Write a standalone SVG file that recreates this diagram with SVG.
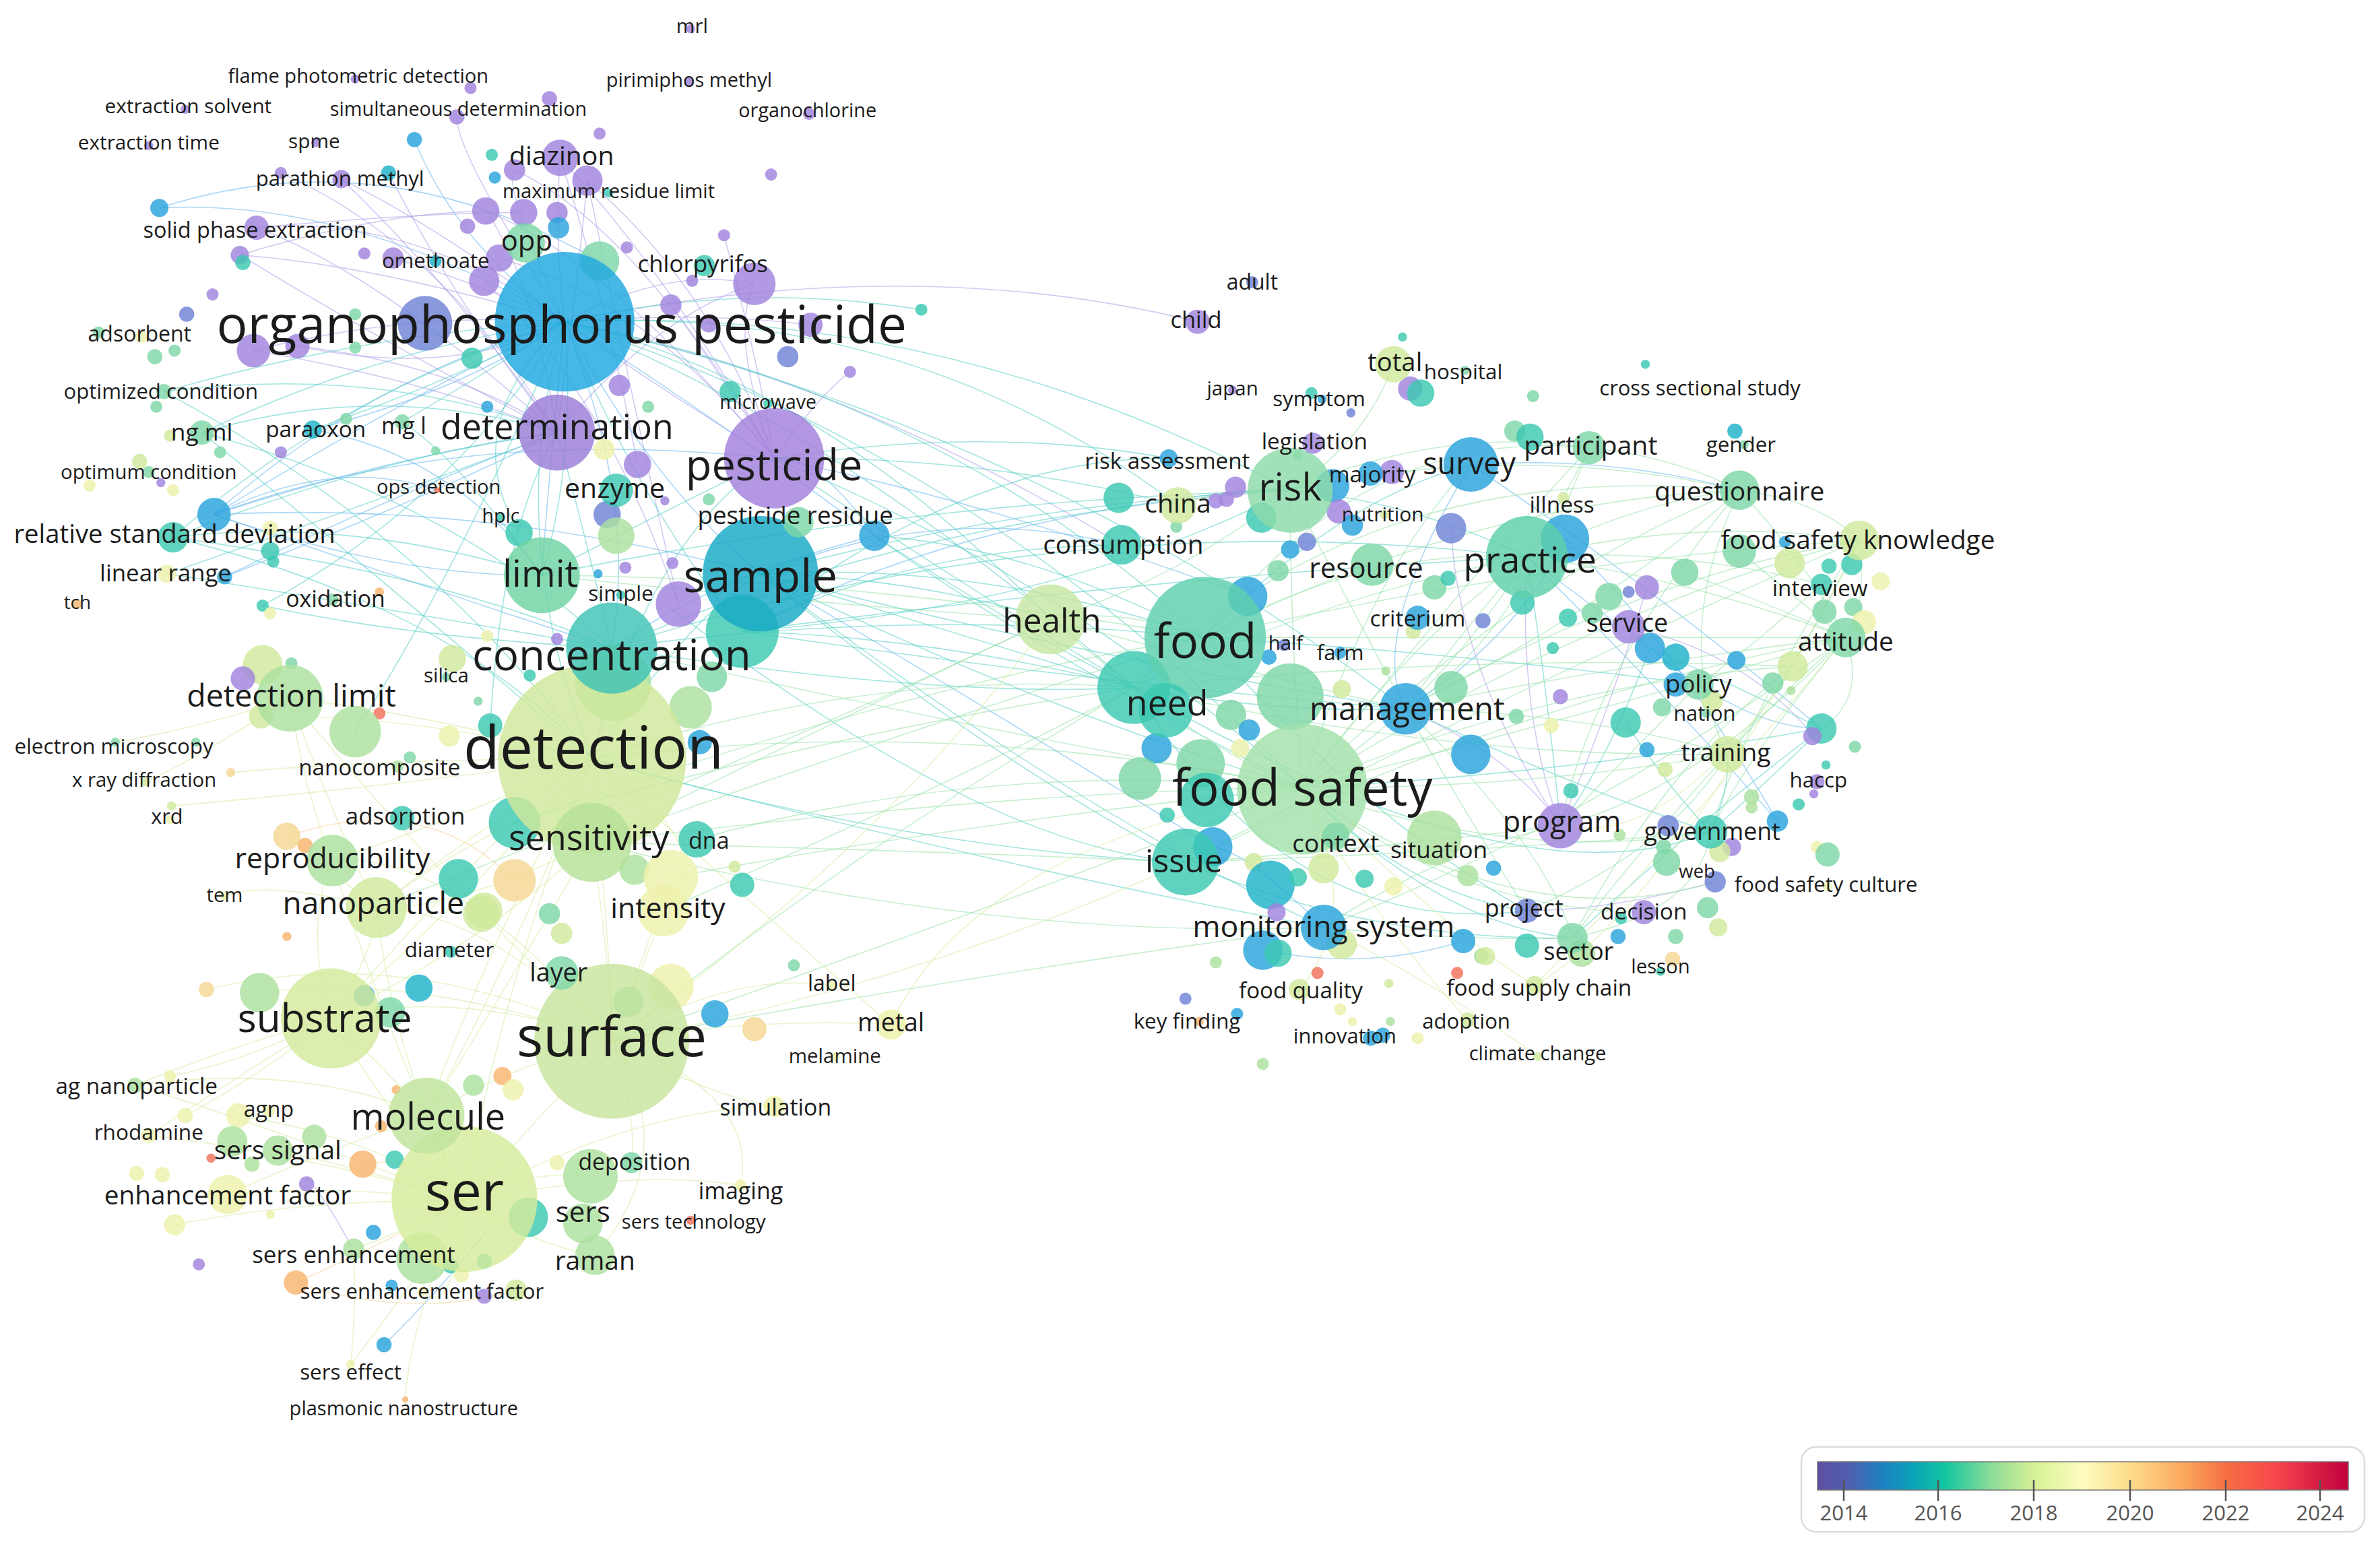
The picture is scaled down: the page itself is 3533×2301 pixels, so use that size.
<svg xmlns="http://www.w3.org/2000/svg" width="3533" height="2301" viewBox="0 0 3533 2301">
<defs>
<style>
text{font-family:"Open Sans","Noto Sans","DejaVu Sans",sans-serif;text-anchor:middle;dominant-baseline:middle;fill:#1b1b1b}
circle{fill-opacity:.82}
.p{fill:#a084dd}.bp{fill:#6f83d6}.b{fill:#29a3dc}.tb{fill:#1fb2c9}.t{fill:#3cc8b2}.g{fill:#7fd7a7}.lg{fill:#ace19f}.yg{fill:#d0e99c}.y{fill:#eef1ab}.lo{fill:#f5d792}.o{fill:#f6b46f}.r{fill:#f2705a}
#connectors{fill:none;stroke-width:.7;stroke-opacity:.55}
.ep{stroke:#ad9fe8}.eb{stroke:#68b6ee}.et{stroke:#55d0c4}.eg{stroke:#98e1aa}.ey{stroke:#d6eca2}.eo{stroke:#f5d39a}
.lgd{font-size:31px;fill:#555}
</style>
<linearGradient id="yr" x1="0" y1="0" x2="1" y2="0">
<stop offset="0" stop-color="#5e4fa2"/>
<stop offset="0.06" stop-color="#4f5fae"/>
<stop offset="0.12" stop-color="#1f80c2"/>
<stop offset="0.18" stop-color="#0aa2b8"/>
<stop offset="0.24" stop-color="#12c6a0"/>
<stop offset="0.33" stop-color="#8fdc98"/>
<stop offset="0.41" stop-color="#d8f296"/>
<stop offset="0.5" stop-color="#fdfdbf"/>
<stop offset="0.59" stop-color="#fedc8b"/>
<stop offset="0.69" stop-color="#fca85e"/>
<stop offset="0.77" stop-color="#f66e42"/>
<stop offset="0.86" stop-color="#f8474c"/>
<stop offset="1" stop-color="#c1003e"/>
</linearGradient>
</defs>
<rect width="3533" height="2301" fill="#ffffff"/>
<g transform="scale(2.2532)">
<g id="connectors">
<g class="ep">
<path d="M372 212Q270 140 169 150"/><path d="M372 212Q290 150 225 118"/><path d="M372 212Q310 185 259 170"/><path d="M372 212Q250 175 158 168"/><path d="M372 212Q270 205 167 231"/><path d="M372 212Q365 160 369 104"/><path d="M372 212Q440 175 497 187"/><path d="M372 212Q460 205 534 214"/><path d="M367 285Q250 180 169 150"/><path d="M367 285Q260 230 158 168"/><path d="M367 285Q300 240 196 228"/><path d="M367 285Q350 180 320 139"/><path d="M367 285Q380 190 387 119"/><path d="M510 302Q470 190 387 119"/><path d="M510 302Q440 180 369 104"/><path d="M510 302Q480 220 497 187"/><path d="M510 302Q500 240 477 155"/><path d="M510 302Q540 260 560 245"/><path d="M510 302Q440 260 372 212"/><path d="M372 212Q600 165 789 212"/><path d="M169 150Q280 140 345 140"/><path d="M225 118Q300 190 367 285"/><path d="M1028 544Q1000 470 1006 367"/><path d="M1028 544Q960 440 956 348"/><path d="M1028 544Q1000 500 926 467"/><path d="M1073 413Q1150 430 1195 485"/><path d="M202 776Q215 790 232 822"/><path d="M1130 581Q1060 600 1006 600"/><path d="M372 212Q560 250 739 359"/>
<path d="M510 302Q420 150 339 112"/><path d="M510 302Q400 170 320 139"/><path d="M510 302Q430 200 329 170"/><path d="M367 285Q300 200 256 114"/><path d="M367 285Q290 160 185 114"/><path d="M372 212Q330 120 339 112"/><path d="M372 212Q300 100 301 77"/><path d="M510 302Q470 240 442 201"/><path d="M447 398Q420 280 387 119"/><path d="M447 398Q400 260 319 185"/><path d="M367 285Q430 210 497 187"/><path d="M158 168Q250 140 320 139"/><path d="M167 231Q280 250 367 285"/><path d="M196 228Q300 250 372 212"/><path d="M420 306Q400 200 369 104"/><path d="M1085 387Q1060 470 1028 544"/>
</g>
<g class="eb">
<path d="M105 137Q250 90 395 172"/><path d="M372 212Q240 250 141 339"/><path d="M372 212Q300 260 206 283"/><path d="M367 285Q260 300 141 339"/><path d="M367 285Q250 330 148 380"/><path d="M501 378Q320 330 141 339"/><path d="M141 339Q220 300 288 323"/><path d="M501 378Q430 320 372 212"/><path d="M372 212Q360 330 357 379"/><path d="M372 212Q420 330 403 427"/><path d="M576 353Q540 300 510 302"/><path d="M501 378Q620 330 739 359"/><path d="M253 886Q290 850 320 812"/><path d="M969 306Q1060 300 1146 323"/><path d="M969 306Q1080 380 1200 480"/><path d="M1006 367Q1050 400 1087 427"/><path d="M926 467Q1000 420 1031 355"/><path d="M872 611Q820 560 799 558"/><path d="M832 626Q900 640 964 620"/><path d="M1006 367Q1100 460 1171 541"/><path d="M489 416Q650 330 878 320"/>
<path d="M105 137Q230 130 372 212"/><path d="M273 92Q300 160 372 212"/><path d="M141 339Q270 260 372 212"/><path d="M141 339Q300 280 510 302"/><path d="M141 339Q320 400 403 427"/><path d="M141 339Q260 380 357 379"/><path d="M148 380Q300 320 367 285"/><path d="M576 353Q450 260 372 212"/><path d="M576 353Q470 380 403 427"/><path d="M206 283Q300 300 357 379"/><path d="M822 393Q650 330 510 302"/><path d="M799 558Q640 460 501 378"/><path d="M969 306Q900 420 926 467"/><path d="M1031 355Q1100 420 1171 541"/><path d="M1087 427Q1150 480 1200 480"/>
</g>
<g class="et">
<path d="M372 212Q250 230 133 285"/><path d="M372 212Q220 260 114 354"/><path d="M372 212Q240 220 108 258"/><path d="M372 212Q330 350 390 500"/><path d="M372 212Q490 185 607 204"/><path d="M372 212Q620 200 850 323"/><path d="M372 212Q620 260 793 420"/><path d="M372 212Q540 250 692 408"/><path d="M510 302Q650 280 770 302"/><path d="M510 302Q650 300 776 333"/><path d="M510 302Q700 380 858 519"/><path d="M510 302Q640 390 747 453"/><path d="M501 378Q600 380 692 408"/><path d="M501 378Q650 370 793 420"/><path d="M501 378Q640 420 747 453"/><path d="M501 378Q690 470 858 519"/><path d="M501 378Q680 330 850 323"/><path d="M501 378Q700 430 926 467"/><path d="M501 378Q650 500 781 568"/><path d="M501 378Q700 530 872 611"/><path d="M403 427Q300 380 114 354"/><path d="M403 427Q250 400 110 378"/><path d="M403 427Q270 420 173 399"/><path d="M403 427Q600 400 793 420"/><path d="M403 427Q620 460 747 453"/><path d="M357 379Q230 340 114 354"/><path d="M357 379Q300 300 265 278"/><path d="M357 379Q450 330 510 302"/><path d="M390 500Q280 350 108 258"/><path d="M390 500Q250 380 133 285"/><path d="M489 416Q620 420 747 453"/><path d="M489 416Q700 400 850 323"/><path d="M489 416Q760 380 1006 367"/><path d="M850 323Q930 330 1006 367"/><path d="M793 420Q880 330 969 306"/><path d="M793 420Q960 430 1119 451"/><path d="M747 453Q840 470 926 467"/><path d="M858 519Q1030 510 1200 480"/><path d="M858 519Q950 610 1036 618"/><path d="M858 519Q930 590 1006 600"/><path d="M781 568Q900 620 1036 618"/><path d="M747 453Q850 620 1006 600"/><path d="M1200 480Q1140 450 1087 427"/><path d="M1127 548Q1140 520 1138 497"/><path d="M1127 548Q1170 510 1200 480"/><path d="M1028 544Q1060 500 1087 427"/><path d="M926 467Q1040 520 1127 548"/><path d="M1006 367Q1020 460 1028 544"/><path d="M793 420Q900 540 1006 600"/><path d="M747 453Q1000 600 1127 548"/><path d="M489 416Q720 450 926 467"/><path d="M441 400Q650 560 781 568"/>
<path d="M114 354Q250 300 367 285"/><path d="M114 354Q300 400 390 500"/><path d="M133 285Q250 250 367 285"/><path d="M133 285Q300 330 403 427"/><path d="M108 258Q250 240 367 285"/><path d="M110 378Q250 330 367 285"/><path d="M173 399Q300 330 372 212"/><path d="M206 283Q300 250 372 212"/><path d="M265 278Q330 240 372 212"/><path d="M342 351Q300 280 372 212"/><path d="M489 416Q420 330 372 212"/><path d="M403 427Q380 330 367 285"/><path d="M357 379Q380 300 372 212"/><path d="M390 500Q460 400 501 378"/><path d="M390 500Q430 350 510 302"/><path d="M234 482Q300 380 372 212"/><path d="M323 478Q330 350 367 285"/><path d="M489 416Q600 360 739 359"/><path d="M489 416Q640 300 770 302"/><path d="M576 353Q680 420 747 453"/><path d="M576 353Q700 440 858 519"/><path d="M576 353Q680 360 793 420"/><path d="M403 427Q600 340 850 323"/><path d="M403 427Q700 330 1006 367"/><path d="M357 379Q600 330 850 323"/><path d="M390 500Q600 560 781 568"/><path d="M390 500Q650 570 872 611"/><path d="M372 212Q650 300 858 519"/><path d="M372 212Q600 200 776 333"/><path d="M372 212Q550 280 747 453"/><path d="M372 212Q680 280 926 467"/><path d="M1200 480Q1120 540 1036 618"/><path d="M1071 476Q1100 520 1127 548"/>
</g>
<g class="eg">
<path d="M858 519Q930 420 1006 367"/><path d="M858 519Q1000 380 1146 323"/><path d="M858 519Q1050 400 1225 356"/><path d="M858 519Q1050 470 1216 420"/><path d="M858 519Q1000 520 1138 497"/><path d="M858 519Q1000 570 1127 548"/><path d="M858 519Q1020 450 1181 439"/><path d="M793 420Q900 360 1006 367"/><path d="M793 420Q970 330 1146 323"/><path d="M793 420Q1000 420 1216 420"/><path d="M793 420Q1010 370 1225 356"/><path d="M747 453Q880 390 1006 367"/><path d="M747 453Q950 500 1138 497"/><path d="M747 453Q970 430 1181 439"/><path d="M850 323Q1000 290 1146 323"/><path d="M850 323Q950 280 1047 295"/><path d="M850 323Q810 320 776 333"/><path d="M1006 367Q1120 340 1225 356"/><path d="M1006 367Q1110 380 1216 420"/><path d="M1006 367Q1100 360 1200 385"/><path d="M1006 367Q1080 330 1146 323"/><path d="M1146 323Q1200 330 1225 356"/><path d="M1146 323Q1190 370 1216 420"/><path d="M1047 295Q1030 330 1006 367"/><path d="M1047 295Q1100 300 1146 323"/><path d="M1225 356Q1230 400 1216 420"/><path d="M1138 497Q1180 450 1216 420"/><path d="M390 500Q620 470 858 519"/><path d="M390 500Q570 440 747 453"/><path d="M404 686Q650 600 858 519"/><path d="M404 686Q560 560 747 453"/><path d="M390 555Q600 480 793 420"/><path d="M390 555Q560 470 692 408"/><path d="M390 555Q680 520 858 519"/><path d="M357 379Q560 400 692 408"/><path d="M357 379Q560 380 793 420"/><path d="M403 427Q640 480 858 519"/><path d="M692 408Q780 380 850 323"/><path d="M692 408Q740 400 793 420"/><path d="M692 408Q850 450 926 467"/><path d="M692 408Q800 500 858 519"/><path d="M1036 618Q1120 600 1127 548"/><path d="M1006 600Q1100 560 1138 497"/><path d="M872 611Q950 560 1028 544"/><path d="M781 568Q900 560 1028 544"/><path d="M781 568Q1000 560 1127 548"/><path d="M918 240Q900 290 850 323"/><path d="M1216 420Q1230 460 1200 480"/>
<path d="M390 555Q600 560 781 568"/><path d="M390 555Q650 620 872 611"/><path d="M404 686Q650 640 872 611"/><path d="M339 542Q560 480 747 453"/><path d="M339 542Q600 450 793 420"/><path d="M442 578Q650 540 858 519"/><path d="M248 598Q500 500 692 408"/><path d="M437 600Q620 520 747 453"/><path d="M459 553Q650 500 858 519"/><path d="M850 323Q890 400 926 467"/><path d="M850 323Q850 420 858 519"/><path d="M1006 367Q960 420 926 467"/><path d="M1006 367Q950 460 858 519"/><path d="M969 306Q900 380 858 519"/><path d="M1047 295Q1000 420 926 467"/><path d="M1146 323Q1100 420 1138 497"/><path d="M1146 323Q1050 440 1028 544"/><path d="M1225 356Q1180 450 1138 497"/><path d="M1225 356Q1150 470 1127 548"/><path d="M1216 420Q1150 500 1127 548"/><path d="M1216 420Q1120 520 1028 544"/><path d="M1200 385Q1150 430 1119 451"/><path d="M1181 439Q1100 500 1036 618"/><path d="M1138 497Q1080 560 1036 618"/><path d="M1119 451Q1070 500 1028 544"/><path d="M926 467Q1020 560 1036 618"/><path d="M926 467Q980 560 1006 600"/><path d="M926 467Q1050 470 1138 497"/><path d="M926 467Q1050 440 1216 420"/><path d="M926 467Q1060 400 1146 323"/><path d="M926 467Q1080 380 1225 356"/><path d="M858 519Q950 400 1047 295"/><path d="M793 420Q900 280 1047 295"/><path d="M747 453Q900 300 1146 323"/><path d="M781 568Q1000 460 1216 420"/><path d="M781 568Q1000 450 1225 356"/><path d="M872 611Q1050 540 1216 420"/><path d="M858 519Q960 600 1083 601"/><path d="M858 519Q1000 620 1130 581"/><path d="M872 611Q960 620 1036 618"/><path d="M1146 363Q1190 400 1216 420"/><path d="M1110 377Q1170 400 1216 420"/>
</g>
<g class="ey">
<path d="M390 500Q280 470 191 460"/><path d="M390 500Q250 500 152 509"/><path d="M390 500Q240 520 113 531"/><path d="M390 500Q300 600 218 671"/><path d="M390 500Q310 550 248 598"/><path d="M390 500Q300 540 219 567"/><path d="M390 500Q270 470 172 472"/><path d="M390 500Q400 600 404 686"/><path d="M390 500Q330 650 306 791"/><path d="M390 500Q330 650 281 735"/><path d="M404 686Q480 640 547 649"/><path d="M404 686Q500 670 587 675"/><path d="M404 686Q460 720 510 729"/><path d="M404 686Q600 650 781 568"/><path d="M404 686Q300 650 218 671"/><path d="M404 686Q340 700 281 735"/><path d="M404 686Q350 740 306 791"/><path d="M404 686Q270 640 171 654"/><path d="M404 686Q270 620 136 652"/><path d="M218 671Q150 690 89 715"/><path d="M218 671Q160 700 112 709"/><path d="M218 671Q170 710 122 735"/><path d="M218 671Q140 720 98 748"/><path d="M218 671Q250 700 281 735"/><path d="M218 671Q250 620 248 598"/><path d="M218 671Q260 740 306 791"/><path d="M306 791Q200 790 115 807"/><path d="M306 791Q270 850 231 899"/><path d="M306 791Q420 770 488 781"/><path d="M306 791Q420 730 510 729"/><path d="M306 791Q220 780 150 787"/><path d="M306 791Q240 770 183 758"/><path d="M306 791Q350 770 389 775"/><path d="M306 791Q350 820 392 827"/><path d="M306 791Q270 810 233 823"/><path d="M248 598Q180 580 148 590"/><path d="M248 598Q300 560 339 542"/><path d="M390 555Q300 600 248 598"/><path d="M390 555Q320 620 218 671"/><path d="M390 555Q400 620 404 686"/><path d="M404 686Q580 560 692 408"/><path d="M281 735Q200 700 89 715"/><path d="M281 735Q210 760 150 787"/><path d="M231 899Q235 860 233 823"/><path d="M587 675Q640 560 858 519"/>
<path d="M390 500Q480 560 437 600"/><path d="M390 500Q500 600 587 675"/><path d="M404 686Q320 600 248 598"/><path d="M404 686Q300 560 219 567"/><path d="M404 686Q280 570 191 460"/><path d="M306 791Q260 700 248 598"/><path d="M306 791Q250 670 219 567"/><path d="M306 791Q170 740 89 715"/><path d="M306 791Q200 760 98 748"/><path d="M306 791Q250 750 157 735"/><path d="M218 671Q200 610 219 567"/><path d="M281 735Q340 640 390 555"/><path d="M281 735Q330 600 390 500"/><path d="M404 686Q430 620 437 600"/><path d="M442 578Q420 640 404 686"/><path d="M218 671Q300 580 339 542"/><path d="M404 686Q500 720 488 781"/><path d="M404 686Q420 740 416 766"/><path d="M404 686Q450 760 392 827"/><path d="M191 460Q200 520 219 567"/><path d="M191 460Q220 540 248 598"/><path d="M191 460Q130 480 76 489"/><path d="M191 460Q130 500 96 515"/><path d="M248 598Q200 560 189 551"/><path d="M306 791Q270 870 267 922"/><path d="M306 791Q300 870 278 851"/><path d="M1216 420Q1100 560 1011 649"/><path d="M858 519Q900 600 856 652"/><path d="M858 519Q960 620 1011 649"/><path d="M872 611Q950 650 1013 696"/><path d="M858 519Q900 600 967 672"/><path d="M1181 439Q1100 560 1028 544"/><path d="M1225 356Q1100 600 1011 649"/>
</g>
<g class="eo">
<path d="M306 791Q230 830 195 845"/><path d="M195 845Q270 870 340 850"/><path d="M189 551Q280 520 339 580"/><path d="M239 767Q280 760 306 791"/>
</g>
</g>
<g id="unlabelled-nodes">
<circle class="p" cx="310" cy="58" r="4"/><circle class="p" cx="362" cy="65" r="5"/><circle class="p" cx="395" cy="88" r="4"/><circle class="b" cx="273" cy="92" r="5"/><circle class="t" cx="324" cy="102" r="4"/><circle class="p" cx="339" cy="112" r="7"/><circle class="b" cx="326" cy="117" r="4"/><circle class="p" cx="387" cy="119" r="10"/><circle class="p" cx="185" cy="114" r="4"/><circle class="tb" cx="256" cy="114" r="5"/><circle class="b" cx="105" cy="137" r="6"/><circle class="p" cx="320" cy="139" r="9"/><circle class="p" cx="345" cy="140" r="9"/><circle class="p" cx="367" cy="140" r="7"/><circle class="b" cx="368" cy="150" r="7"/><circle class="p" cx="308" cy="149" r="5"/><circle class="g" cx="395" cy="172" r="13"/><circle class="p" cx="329" cy="170" r="9"/><circle class="p" cx="319" cy="185" r="10"/><circle class="p" cx="259" cy="170" r="7"/><circle class="p" cx="240" cy="167" r="4"/><circle class="p" cx="158" cy="168" r="6"/><circle class="t" cx="160" cy="173" r="5"/><circle class="p" cx="140" cy="194" r="4"/><circle class="bp" cx="123" cy="207" r="5"/><circle class="g" cx="65" cy="219" r="4"/><circle class="g" cx="115" cy="231" r="4"/><circle class="g" cx="102" cy="235" r="5"/><circle class="p" cx="167" cy="231" r="11"/><circle class="p" cx="196" cy="228" r="8"/><circle class="g" cx="234" cy="207" r="4"/><circle class="g" cx="234" cy="229" r="4"/><circle class="bp" cx="280" cy="213" r="18"/><circle class="t" cx="311" cy="236" r="7"/><circle class="p" cx="508" cy="115" r="4"/><circle class="p" cx="477" cy="155" r="4"/><circle class="p" cx="413" cy="163" r="4"/><circle class="p" cx="456" cy="185" r="4"/><circle class="p" cx="497" cy="187" r="14"/><circle class="p" cx="442" cy="201" r="7"/><circle class="p" cx="467" cy="213" r="6"/><circle class="p" cx="534" cy="214" r="8"/><circle class="t" cx="607" cy="204" r="4"/><circle class="bp" cx="519" cy="235" r="7"/><circle class="p" cx="560" cy="245" r="4"/><circle class="p" cx="408" cy="254" r="7"/><circle class="t" cx="481" cy="258" r="7"/><circle class="g" cx="103" cy="268" r="4"/><circle class="g" cx="228" cy="276" r="4"/><circle class="yg" cx="112" cy="287" r="4"/><circle class="g" cx="145" cy="298" r="4"/><circle class="p" cx="185" cy="298" r="4"/><circle class="g" cx="287" cy="297" r="3"/><circle class="b" cx="321" cy="268" r="4"/><circle class="yg" cx="92" cy="304" r="5"/><circle class="g" cx="98" cy="311" r="4"/><circle class="y" cx="59" cy="320" r="4"/><circle class="y" cx="114" cy="323" r="4"/><circle class="g" cx="427" cy="268" r="4"/><circle class="y" cx="398" cy="296" r="7"/><circle class="p" cx="420" cy="306" r="9"/><circle class="p" cx="438" cy="330" r="3"/><circle class="g" cx="467" cy="329" r="4"/><circle class="bp" cx="400" cy="339" r="9"/><circle class="lg" cx="406" cy="353" r="12"/><circle class="t" cx="342" cy="351" r="9"/><circle class="b" cx="576" cy="353" r="10"/><circle class="b" cx="141" cy="339" r="11"/><circle class="y" cx="178" cy="348" r="5"/><circle class="t" cx="178" cy="363" r="6"/><circle class="t" cx="180" cy="370" r="4"/><circle class="b" cx="148" cy="380" r="5"/><circle class="b" cx="394" cy="378" r="3"/><circle class="p" cx="412" cy="374" r="4"/><circle class="p" cx="443" cy="371" r="4"/><circle class="p" cx="447" cy="398" r="15"/><circle class="t" cx="489" cy="416" r="24"/><circle class="o" cx="250" cy="390" r="3"/><circle class="t" cx="173" cy="399" r="4"/><circle class="y" cx="178" cy="404" r="4"/><circle class="y" cx="321" cy="419" r="4"/><circle class="p" cx="367" cy="421" r="4"/><circle class="yg" cx="173" cy="438" r="13"/><circle class="g" cx="192" cy="437" r="4"/><circle class="p" cx="160" cy="447" r="8"/><circle class="yg" cx="298" cy="434" r="9"/><circle class="t" cx="349" cy="445" r="4"/><circle class="lg" cx="404" cy="450" r="25"/><circle class="g" cx="469" cy="446" r="10"/><circle class="lg" cx="455" cy="466" r="14"/><circle class="r" cx="250" cy="470" r="4"/><circle class="lg" cx="234" cy="482" r="17"/><circle class="g" cx="315" cy="462" r="3"/><circle class="t" cx="323" cy="478" r="8"/><circle class="y" cx="296" cy="485" r="7"/><circle class="yg" cx="172" cy="472" r="8"/><circle class="g" cx="129" cy="489" r="3"/><circle class="g" cx="270" cy="499" r="4"/><circle class="b" cx="461" cy="489" r="8"/><circle class="lo" cx="152" cy="509" r="3"/><circle class="yg" cx="113" cy="531" r="3"/><circle class="lo" cx="189" cy="551" r="9"/><circle class="o" cx="201" cy="557" r="5"/><circle class="t" cx="339" cy="542" r="17"/><circle class="t" cx="302" cy="579" r="13"/><circle class="lo" cx="339" cy="580" r="14"/><circle class="yg" cx="317" cy="602" r="12"/><circle class="g" cx="362" cy="602" r="7"/><circle class="o" cx="189" cy="617" r="3"/><circle class="lg" cx="418" cy="573" r="10"/><circle class="y" cx="442" cy="578" r="18"/><circle class="yg" cx="484" cy="571" r="4"/><circle class="t" cx="489" cy="583" r="8"/><circle class="yg" cx="370" cy="615" r="7"/><circle class="yg" cx="319" cy="600" r="12"/><circle class="lo" cx="136" cy="652" r="5"/><circle class="lg" cx="171" cy="654" r="13"/><circle class="tb" cx="276" cy="651" r="9"/><circle class="b" cx="240" cy="656" r="7"/><circle class="g" cx="257" cy="667" r="10"/><circle class="y" cx="442" cy="650" r="15"/><circle class="g" cx="414" cy="660" r="10"/><circle class="b" cx="471" cy="668" r="9"/><circle class="lo" cx="497" cy="678" r="8"/><circle class="g" cx="523" cy="636" r="4"/><circle class="y" cx="112" cy="709" r="4"/><circle class="o" cx="331" cy="709" r="6"/><circle class="lg" cx="312" cy="715" r="7"/><circle class="y" cx="338" cy="718" r="7"/><circle class="o" cx="261" cy="718" r="3"/><circle class="y" cx="122" cy="735" r="5"/><circle class="y" cx="157" cy="735" r="8"/><circle class="o" cx="251" cy="742" r="4"/><circle class="lg" cx="153" cy="752" r="10"/><circle class="r" cx="139" cy="763" r="3"/><circle class="lg" cx="207" cy="749" r="8"/><circle class="lg" cx="166" cy="767" r="5"/><circle class="y" cx="90" cy="773" r="5"/><circle class="y" cx="107" cy="774" r="5"/><circle class="p" cx="202" cy="780" r="5"/><circle class="o" cx="239" cy="767" r="9"/><circle class="t" cx="260" cy="764" r="6"/><circle class="lg" cx="389" cy="775" r="18"/><circle class="y" cx="367" cy="766" r="5"/><circle class="t" cx="348" cy="802" r="13"/><circle class="y" cx="115" cy="807" r="7"/><circle class="y" cx="178" cy="800" r="3"/><circle class="b" cx="246" cy="812" r="5"/><circle class="lg" cx="278" cy="829" r="17"/><circle class="t" cx="297" cy="834" r="5"/><circle class="t" cx="319" cy="831" r="5"/><circle class="p" cx="131" cy="833" r="4"/><circle class="o" cx="195" cy="845" r="8"/><circle class="b" cx="258" cy="847" r="4"/><circle class="y" cx="304" cy="840" r="5"/><circle class="yg" cx="340" cy="850" r="7"/><circle class="p" cx="319" cy="854" r="5"/><circle class="b" cx="253" cy="886" r="5"/>
<circle class="t" cx="924" cy="222" r="3"/><circle class="p" cx="929" cy="256" r="8"/><circle class="t" cx="936" cy="259" r="9"/><circle class="b" cx="871" cy="263" r="3"/><circle class="bp" cx="890" cy="272" r="3"/><circle class="g" cx="855" cy="300" r="3"/><circle class="b" cx="878" cy="320" r="11"/><circle class="p" cx="917" cy="311" r="8"/><circle class="t" cx="737" cy="328" r="10"/><circle class="g" cx="775" cy="347" r="4"/><circle class="p" cx="814" cy="321" r="7"/><circle class="p" cx="808" cy="329" r="5"/><circle class="p" cx="801" cy="330" r="5"/><circle class="p" cx="882" cy="337" r="8"/><circle class="b" cx="891" cy="346" r="7"/><circle class="t" cx="831" cy="341" r="10"/><circle class="bp" cx="861" cy="357" r="6"/><circle class="b" cx="850" cy="362" r="6"/><circle class="bp" cx="956" cy="348" r="10"/><circle class="g" cx="842" cy="376" r="7"/><circle class="g" cx="945" cy="387" r="8"/><circle class="t" cx="954" cy="381" r="5"/><circle class="b" cx="822" cy="393" r="13"/><circle class="yg" cx="931" cy="416" r="5"/><circle class="bp" cx="977" cy="409" r="5"/><circle class="b" cx="836" cy="433" r="5"/><circle class="t" cx="1084" cy="240" r="3"/><circle class="g" cx="1010" cy="261" r="4"/><circle class="g" cx="998" cy="284" r="7"/><circle class="t" cx="1008" cy="288" r="9"/><circle class="g" cx="1149" cy="293" r="3"/><circle class="b" cx="1031" cy="355" r="16"/><circle class="g" cx="1146" cy="363" r="11"/><circle class="yg" cx="1179" cy="371" r="10"/><circle class="b" cx="1176" cy="357" r="4"/><circle class="t" cx="1205" cy="373" r="5"/><circle class="t" cx="1220" cy="372" r="7"/><circle class="y" cx="1239" cy="383" r="6"/><circle class="g" cx="1110" cy="377" r="9"/><circle class="p" cx="1085" cy="387" r="8"/><circle class="bp" cx="1073" cy="390" r="4"/><circle class="g" cx="1060" cy="393" r="9"/><circle class="g" cx="1202" cy="403" r="8"/><circle class="g" cx="1221" cy="400" r="6"/><circle class="y" cx="1228" cy="410" r="8"/><circle class="g" cx="1049" cy="404" r="7"/><circle class="t" cx="1033" cy="407" r="6"/><circle class="b" cx="1087" cy="427" r="10"/><circle class="tb" cx="1104" cy="433" r="9"/><circle class="t" cx="1023" cy="427" r="4"/><circle class="b" cx="1144" cy="435" r="6"/><circle class="yg" cx="1181" cy="439" r="10"/><circle class="t" cx="1003" cy="397" r="8"/><circle class="t" cx="747" cy="453" r="24"/><circle class="g" cx="850" cy="459" r="22"/><circle class="yg" cx="884" cy="454" r="6"/><circle class="lg" cx="913" cy="442" r="3"/><circle class="g" cx="956" cy="453" r="11"/><circle class="b" cx="969" cy="497" r="13"/><circle class="g" cx="811" cy="471" r="10"/><circle class="b" cx="823" cy="481" r="7"/><circle class="b" cx="762" cy="493" r="10"/><circle class="y" cx="817" cy="493" r="6"/><circle class="g" cx="791" cy="503" r="16"/><circle class="g" cx="751" cy="513" r="14"/><circle class="t" cx="795" cy="527" r="18"/><circle class="t" cx="769" cy="537" r="5"/><circle class="b" cx="799" cy="558" r="13"/><circle class="yg" cx="826" cy="568" r="6"/><circle class="tb" cx="837" cy="583" r="16"/><circle class="t" cx="855" cy="578" r="6"/><circle class="yg" cx="872" cy="572" r="10"/><circle class="t" cx="899" cy="579" r="6"/><circle class="y" cx="918" cy="584" r="6"/><circle class="lg" cx="967" cy="577" r="7"/><circle class="b" cx="984" cy="572" r="5"/><circle class="p" cx="841" cy="601" r="6"/><circle class="b" cx="832" cy="626" r="13"/><circle class="t" cx="842" cy="628" r="9"/><circle class="yg" cx="884" cy="622" r="10"/><circle class="b" cx="964" cy="620" r="8"/><circle class="lg" cx="976" cy="630" r="5"/><circle class="lg" cx="801" cy="634" r="4"/><circle class="r" cx="868" cy="641" r="4"/><circle class="r" cx="960" cy="641" r="4"/><circle class="yg" cx="915" cy="648" r="3"/><circle class="bp" cx="781" cy="658" r="4"/><circle class="b" cx="815" cy="668" r="4"/><circle class="y" cx="883" cy="665" r="4"/><circle class="y" cx="891" cy="673" r="3"/><circle class="lg" cx="916" cy="673" r="3"/><circle class="b" cx="911" cy="682" r="5"/><circle class="y" cx="934" cy="684" r="4"/><circle class="lg" cx="832" cy="701" r="4"/><circle class="g" cx="1168" cy="450" r="7"/><circle class="lg" cx="1180" cy="455" r="3"/><circle class="b" cx="1104" cy="451" r="8"/><circle class="p" cx="1028" cy="459" r="5"/><circle class="g" cx="999" cy="472" r="5"/><circle class="y" cx="1022" cy="478" r="5"/><circle class="t" cx="1071" cy="476" r="10"/><circle class="g" cx="1095" cy="466" r="6"/><circle class="yg" cx="1128" cy="462" r="7"/><circle class="t" cx="1200" cy="480" r="10"/><circle class="p" cx="1194" cy="485" r="6"/><circle class="g" cx="1222" cy="492" r="4"/><circle class="b" cx="1085" cy="494" r="5"/><circle class="yg" cx="1097" cy="507" r="5"/><circle class="t" cx="1203" cy="504" r="3"/><circle class="p" cx="1195" cy="523" r="3"/><circle class="t" cx="1035" cy="521" r="5"/><circle class="lg" cx="1154" cy="525" r="5"/><circle class="lg" cx="1154" cy="532" r="4"/><circle class="t" cx="1185" cy="530" r="4"/><circle class="b" cx="1171" cy="541" r="7"/><circle class="lg" cx="1067" cy="550" r="4"/><circle class="bp" cx="1099" cy="544" r="7"/><circle class="p" cx="1141" cy="558" r="6"/><circle class="yg" cx="1133" cy="561" r="7"/><circle class="g" cx="1096" cy="558" r="5"/><circle class="g" cx="1098" cy="568" r="9"/><circle class="y" cx="1197" cy="558" r="4"/><circle class="g" cx="1204" cy="563" r="8"/><circle class="g" cx="1125" cy="598" r="7"/><circle class="t" cx="1068" cy="605" r="4"/><circle class="yg" cx="1132" cy="611" r="6"/><circle class="t" cx="1006" cy="623" r="8"/><circle class="lg" cx="1042" cy="628" r="9"/><circle class="b" cx="1066" cy="617" r="5"/><circle class="g" cx="1104" cy="617" r="5"/><circle class="t" cx="1094" cy="640" r="3"/><circle class="yg" cx="979" cy="630" r="6"/>
</g>
<g id="nodes">
<g id="n-detection"><circle cx="390" cy="500" r="62" style="fill:#d0e89b"/><text x="391" y="496" font-size="39">detection</text></g>
<g id="n-surface"><circle cx="403" cy="686" r="51" style="fill:#c8e49d"/><text x="403" y="686" font-size="36.5">surface</text></g>
<g id="n-ser"><circle cx="306" cy="790" r="48" style="fill:#d5eb9b"/><text x="306" y="788" font-size="36">ser</text></g>
<g id="n-organophosphorus-pesticide"><circle cx="372" cy="212" r="46" style="fill:#1ea7df"/><text x="370" y="217" font-size="34">organophosphorus pesticide</text></g>
<g id="n-food-safety"><circle cx="858" cy="520" r="43" style="fill:#a2e0aa"/><text x="858" y="522" font-size="33">food safety</text></g>
<g id="n-food"><circle cx="794" cy="420" r="40" style="fill:#5fcfae"/><text x="794" y="425" font-size="31.5">food</text></g>
<g id="n-sample"><circle cx="501" cy="378" r="38" style="fill:#16a8c5"/><text x="501" y="382" font-size="30">sample</text></g>
<g id="n-pesticide"><circle cx="510" cy="302" r="33" style="fill:#a280dc"/><text x="510" y="309" font-size="28">pesticide</text></g>
<g id="n-substrate"><circle cx="218" cy="671" r="33" style="fill:#d3ea9c"/><text x="214" y="673" font-size="26">substrate</text></g>
<g id="n-concentration"><circle cx="403" cy="427" r="30" style="fill:#40c3b6"/><text x="403" y="434" font-size="28.3">concentration</text></g>
<g id="n-risk"><circle cx="850" cy="323" r="28" style="fill:#8cdaa9"/><text x="850" y="323" font-size="25">risk</text></g>
<g id="n-practice"><circle cx="1006" cy="367" r="27" style="fill:#5fd0ab"/><text x="1008" y="371" font-size="23.7">practice</text></g>
<g id="n-sensitivity"><circle cx="390" cy="555" r="26" style="fill:#b6e197"/><text x="388" y="554" font-size="23">sensitivity</text></g>
<g id="n-determination"><circle cx="367" cy="285" r="25" style="fill:#9a7cd7"/><text x="367" y="283" font-size="23">determination</text></g>
<g id="n-limit"><circle cx="357" cy="379" r="25" style="fill:#6fd3a3"/><text x="356" y="380" font-size="24.3">limit</text></g>
<g id="n-molecule"><circle cx="281" cy="735" r="25" style="fill:#c0e49b"/><text x="282" y="738" font-size="24">molecule</text></g>
<g id="n-health"><circle cx="692" cy="408" r="23" style="fill:#c6e6a2"/><text x="693" y="411" font-size="22">health</text></g>
<g id="n-issue"><circle class="t" cx="781" cy="568" r="22"/><text x="780" y="569" font-size="21.4">issue</text></g>
<g id="n-detection-limit"><circle class="lg" cx="191" cy="460" r="22"/><text x="192" y="460" font-size="20.6">detection limit</text></g>
<g id="n-nanoparticle"><circle class="yg" cx="248" cy="598" r="20"/><text x="246" y="597" font-size="20.4">nanoparticle</text></g>
<g id="n-survey"><circle class="b" cx="969" cy="306" r="18"/><text x="968" y="307" font-size="20">survey</text></g>
<g id="n-need"><circle class="t" cx="768" cy="468" r="18"/><text x="769" y="465" font-size="23">need</text></g>
<g id="n-situation"><circle class="lg" cx="945" cy="552" r="18"/><text x="948" y="561" font-size="15.7">situation</text></g>
<g id="n-management"><circle class="b" cx="926" cy="467" r="17"/><text x="927" y="469" font-size="20.7">management</text></g>
<g id="n-reproducibility"><circle class="lg" cx="219" cy="567" r="17"/><text x="219" y="567" font-size="19">reproducibility</text></g>
<g id="n-intensity"><circle class="y" cx="437" cy="600" r="17"/><text x="440" y="600" font-size="19">intensity</text></g>
<g id="n-monitoring-system"><circle class="b" cx="872" cy="611" r="15"/><text x="872" y="612" font-size="19.8">monitoring system</text></g>
<g id="n-program"><circle class="p" cx="1028" cy="544" r="15"/><text x="1029" y="543" font-size="19.2">program</text></g>
<g id="n-resource"><circle class="g" cx="904" cy="372" r="14"/><text x="900" y="376" font-size="18.3">resource</text></g>
<g id="n-opp"><circle class="g" cx="346" cy="160" r="13"/><text x="347" y="160" font-size="18.6">opp</text></g>
<g id="n-consumption"><circle class="t" cx="739" cy="359" r="13"/><text x="740" y="360" font-size="17.2">consumption</text></g>
<g id="n-questionnaire"><circle class="g" cx="1146" cy="323" r="13"/><text x="1146" y="325" font-size="17.3">questionnaire</text></g>
<g id="n-food-safety-knowledge"><circle class="yg" cx="1225" cy="356" r="13"/><text x="1224" y="357" font-size="17.2">food safety knowledge</text></g>
<g id="n-attitude"><circle class="g" cx="1216" cy="420" r="13"/><text x="1216" y="424" font-size="17.2">attitude</text></g>
<g id="n-enhancement-factor"><circle class="y" cx="150" cy="787" r="13"/><text x="150" y="789" font-size="17.2">enhancement factor</text></g>
<g id="n-raman"><circle class="lg" cx="392" cy="827" r="13"/><text x="392" y="832" font-size="17.3">raman</text></g>
<g id="n-sers"><circle class="lg" cx="384" cy="806" r="13"/><text x="384" y="800" font-size="18.7">sers</text></g>
<g id="n-china"><circle class="yg" cx="776" cy="333" r="12"/><text x="776" y="333" font-size="17.4">china</text></g>
<g id="n-training"><circle class="yg" cx="1138" cy="497" r="12"/><text x="1137" y="497" font-size="16.4">training</text></g>
<g id="n-total"><circle class="yg" cx="918" cy="240" r="12"/><text x="919" y="240" font-size="17">total</text></g>
<g id="n-diazinon"><circle class="p" cx="369" cy="104" r="12"/><text x="370" y="104" font-size="17.4">diazinon</text></g>
<g id="n-dna"><circle class="t" cx="459" cy="553" r="12"/><text x="467" y="555" font-size="15.1">dna</text></g>
<g id="n-pesticide-residue"><circle class="g" cx="526" cy="344" r="10"/><text x="524" y="341" font-size="16.3">pesticide residue</text></g>
<g id="n-enzyme"><circle class="t" cx="406" cy="323" r="11"/><text x="405" y="323" font-size="18.2">enzyme</text></g>
<g id="n-participant"><circle class="g" cx="1047" cy="295" r="11"/><text x="1048" y="295" font-size="17.4">participant</text></g>
<g id="n-government"><circle class="t" cx="1127" cy="548" r="11"/><text x="1128" y="549" font-size="15.8">government</text></g>
<g id="n-service"><circle class="p" cx="1073" cy="413" r="11"/><text x="1072" y="412" font-size="16.6">service</text></g>
<g id="n-layer"><circle class="g" cx="370" cy="641" r="11"/><text x="368" y="642" font-size="16.7">layer</text></g>
<g id="n-policy"><circle class="g" cx="1119" cy="451" r="10"/><text x="1119" y="452" font-size="16.2">policy</text></g>
<g id="n-sector"><circle class="g" cx="1036" cy="618" r="10"/><text x="1040" y="628" font-size="16">sector</text></g>
<g id="n-relative-standard-deviation"><circle class="t" cx="114" cy="354" r="10"/><text x="115" y="353" font-size="17">relative standard deviation</text></g>
<g id="n-metal"><circle class="y" cx="587" cy="675" r="10"/><text x="587" y="675" font-size="16.6">metal</text></g>
<g id="n-sers-signal"><circle class="lg" cx="183" cy="758" r="10"/><text x="183" y="759" font-size="17.2">sers signal</text></g>
<g id="n-context"><circle class="g" cx="880" cy="551" r="9"/><text x="880" y="557" font-size="16.4">context</text></g>
<g id="n-ng-ml"><circle class="g" cx="133" cy="285" r="8"/><text x="133" y="286" font-size="15.7">ng ml</text></g>
<g id="n-adsorption"><circle class="t" cx="265" cy="539" r="8"/><text x="267" y="539" font-size="15.5">adsorption</text></g>
<g id="n-solid-phase-extraction"><circle class="p" cx="169" cy="150" r="8"/><text x="168" y="153" font-size="14.4">solid phase extraction</text></g>
<g id="n-project"><circle class="bp" cx="1006" cy="600" r="8"/><text x="1004" y="600" font-size="15.9">project</text></g>
<g id="n-decision"><circle class="p" cx="1083" cy="601" r="8"/><text x="1083" y="602" font-size="14.8">decision</text></g>
<g id="n-majority"><circle class="b" cx="903" cy="312" r="8"/><text x="904" y="314" font-size="14.8">majority</text></g>
<g id="n-criterium"><circle class="b" cx="934" cy="407" r="8"/><text x="934" y="409" font-size="14.8">criterium</text></g>
<g id="n-child"><circle class="p" cx="789" cy="212" r="8"/><text x="788" y="212" font-size="15.3">child</text></g>
<g id="n-chlorpyrifos"><circle class="t" cx="464" cy="175" r="7"/><text x="463" y="175" font-size="15.5">chlorpyrifos</text></g>
<g id="n-legislation"><circle class="p" cx="865" cy="292" r="7"/><text x="866" y="292" font-size="14.8">legislation</text></g>
<g id="n-interview"><circle class="t" cx="1200" cy="385" r="7"/><text x="1199" y="389" font-size="14.7">interview</text></g>
<g id="n-web"><circle class="bp" cx="1130" cy="581" r="7"/><text x="1118" y="575" font-size="12.3">web</text></g>
<g id="n-food-quality"><circle class="yg" cx="856" cy="652" r="7"/><text x="857" y="654" font-size="14.7">food quality</text></g>
<g id="n-simulation"><circle class="y" cx="510" cy="729" r="7"/><text x="511" y="731" font-size="15">simulation</text></g>
<g id="n-sers-enhancement"><circle class="lg" cx="233" cy="823" r="7"/><text x="233" y="828" font-size="15.5">sers enhancement</text></g>
<g id="n-deposition"><circle class="g" cx="416" cy="766" r="7"/><text x="418" y="767" font-size="15">deposition</text></g>
<g id="n-parathion-methyl"><circle class="p" cx="225" cy="118" r="6"/><text x="224" y="119" font-size="13.8">parathion methyl</text></g>
<g id="n-risk-assessment"><circle class="b" cx="770" cy="302" r="6"/><text x="769" y="305" font-size="14.7">risk assessment</text></g>
<g id="n-paraoxon"><circle class="tb" cx="206" cy="283" r="6"/><text x="208" y="284" font-size="14.8">paraoxon</text></g>
<g id="n-linear-range"><circle class="y" cx="110" cy="378" r="6"/><text x="109" y="379" font-size="15.5">linear range</text></g>
<g id="n-food-supply-chain"><circle class="yg" cx="1011" cy="649" r="6"/><text x="1014" y="652" font-size="14.8">food supply chain</text></g>
<g id="n-mg-l"><circle class="g" cx="265" cy="278" r="5"/><text x="266" y="282" font-size="15">mg l</text></g>
<g id="n-optimized-condition"><circle class="g" cx="108" cy="258" r="5"/><text x="106" y="259" font-size="13.8">optimized condition</text></g>
<g id="n-haccp"><circle class="p" cx="1197" cy="515" r="5"/><text x="1198" y="515" font-size="13.9">haccp</text></g>
<g id="n-lesson"><circle class="lo" cx="1102" cy="632" r="5"/><text x="1094" y="638" font-size="13">lesson</text></g>
<g id="n-adoption"><circle class="yg" cx="967" cy="672" r="5"/><text x="966" y="674" font-size="13.8">adoption</text></g>
<g id="n-innovation"><circle class="b" cx="903" cy="684" r="5"/><text x="886" y="684" font-size="13.7">innovation</text></g>
<g id="n-gender"><circle class="tb" cx="1143" cy="284" r="5"/><text x="1147" y="294" font-size="13.9">gender</text></g>
<g id="n-ag-nanoparticle"><circle class="lg" cx="89" cy="715" r="5"/><text x="90" y="717" font-size="14.8">ag nanoparticle</text></g>
<g id="n-rhodamine"><circle class="y" cx="98" cy="748" r="5"/><text x="98" y="747" font-size="14">rhodamine</text></g>
<g id="n-simultaneous-determination"><circle class="p" cx="301" cy="77" r="5"/><text x="302" y="73" font-size="12.8">simultaneous determination</text></g>
<g id="n-symptom"><circle class="t" cx="864" cy="259" r="4"/><text x="869" y="264" font-size="13.9">symptom</text></g>
<g id="n-illness"><circle class="yg" cx="1030" cy="328" r="4"/><text x="1029" y="334" font-size="14.8">illness</text></g>
<g id="n-half"><circle class="bp" cx="846" cy="425" r="4"/><text x="847" y="425" font-size="13">half</text></g>
<g id="n-farm"><circle class="b" cx="883" cy="430" r="4"/><text x="883" y="431" font-size="13.9">farm</text></g>
<g id="n-adult"><circle class="bp" cx="825" cy="186" r="4"/><text x="825" y="187" font-size="14.2">adult</text></g>
<g id="n-adsorbent"><circle class="y" cx="93" cy="222" r="4"/><text x="92" y="221" font-size="14.2">adsorbent</text></g>
<g id="n-oxidation"><circle class="g" cx="219" cy="395" r="4"/><text x="221" y="396" font-size="15">oxidation</text></g>
<g id="n-nanocomposite"><circle class="lg" cx="262" cy="505" r="4"/><text x="250" y="507" font-size="14.7">nanocomposite</text></g>
<g id="n-diameter"><circle class="t" cx="297" cy="627" r="4"/><text x="296" y="627" font-size="13.9">diameter</text></g>
<g id="n-agnp"><circle class="y" cx="177" cy="732" r="4"/><text x="177" y="732" font-size="14.2">agnp</text></g>
<g id="n-imaging"><circle class="y" cx="488" cy="781" r="4"/><text x="488" y="786" font-size="15.1">imaging</text></g>
<g id="n-organochlorine"><circle class="p" cx="533" cy="75" r="4"/><text x="532" y="74" font-size="12.8">organochlorine</text></g>
<g id="n-omethoate"><circle class="tb" cx="287" cy="172" r="4"/><text x="287" y="173" font-size="13.8">omethoate</text></g>
<g id="n-nation"><circle class="g" cx="1124" cy="470" r="3"/><text x="1123" y="471" font-size="13.7">nation</text></g>
<g id="n-nutrition"><circle class="yg" cx="912" cy="339" r="3"/><text x="911" y="340" font-size="13.3">nutrition</text></g>
<g id="n-food-safety-culture"><circle class="y" cx="1204" cy="584" r="3"/><text x="1203" y="584" font-size="13.8">food safety culture</text></g>
<g id="n-key-finding"><circle class="o" cx="790" cy="673" r="3"/><text x="782" y="674" font-size="13.9">key finding</text></g>
<g id="n-climate-change"><circle class="yg" cx="1013" cy="696" r="3"/><text x="1013" y="695" font-size="12.9">climate change</text></g>
<g id="n-cross-sectional-study"><circle class="y" cx="1124" cy="257" r="3"/><text x="1120" y="257" font-size="13.7">cross sectional study</text></g>
<g id="n-hospital"><circle class="g" cx="965" cy="244" r="3"/><text x="964" y="246" font-size="13.9">hospital</text></g>
<g id="n-japan"><circle class="p" cx="812" cy="257" r="3"/><text x="812" y="257" font-size="13.1">japan</text></g>
<g id="n-label"><circle class="y" cx="547" cy="649" r="3"/><text x="548" y="649" font-size="14.2">label</text></g>
<g id="n-melamine"><circle class="y" cx="550" cy="696" r="3"/><text x="550" y="697" font-size="13.1">melamine</text></g>
<g id="n-sers-technology"><circle class="r" cx="455" cy="804" r="3"/><text x="457" y="806" font-size="13">sers technology</text></g>
<g id="n-sers-enhancement-factor"><circle class="y" cx="278" cy="851" r="3"/><text x="278" y="852" font-size="13.8">sers enhancement factor</text></g>
<g id="n-sers-effect"><circle class="y" cx="231" cy="899" r="3"/><text x="231" y="905" font-size="13.9">sers effect</text></g>
<g id="n-plasmonic-nanostructure"><circle class="o" cx="267" cy="922" r="2"/><text x="266" y="929" font-size="12.9">plasmonic nanostructure</text></g>
<g id="n-tem"><circle class="y" cx="148" cy="590" r="3"/><text x="148" y="591" font-size="13">tem</text></g>
<g id="n-xrd"><circle class="y" cx="112" cy="540" r="3"/><text x="110" y="539" font-size="13.6">xrd</text></g>
<g id="n-x-ray-diffraction"><circle class="yg" cx="96" cy="515" r="3"/><text x="95" y="515" font-size="13">x ray diffraction</text></g>
<g id="n-electron-microscopy"><circle class="g" cx="76" cy="489" r="3"/><text x="75" y="493" font-size="13.9">electron microscopy</text></g>
<g id="n-silica"><circle class="g" cx="294" cy="446" r="3"/><text x="294" y="446" font-size="13.1">silica</text></g>
<g id="n-simple"><circle class="t" cx="409" cy="392" r="3"/><text x="409" y="392" font-size="13.9">simple</text></g>
<g id="n-hplc"><circle class="t" cx="330" cy="341" r="3"/><text x="330" y="341" font-size="12.7">hplc</text></g>
<g id="n-ops-detection"><circle class="r" cx="288" cy="323" r="2"/><text x="289" y="322" font-size="12.9">ops detection</text></g>
<g id="n-microwave"><circle class="t" cx="506" cy="266" r="3"/><text x="506" y="266" font-size="12.6">microwave</text></g>
<g id="n-tch"><circle class="o" cx="51" cy="398" r="3"/><text x="51" y="398" font-size="12.4">tch</text></g>
<g id="n-optimum-condition"><circle class="p" cx="106" cy="318" r="3"/><text x="98" y="312" font-size="13">optimum condition</text></g>
<g id="n-maximum-residue-limit"><circle class="t" cx="401" cy="127" r="3"/><text x="401" y="127" font-size="13">maximum residue limit</text></g>
<g id="n-spme"><circle class="p" cx="208" cy="94" r="3"/><text x="207" y="94" font-size="13.2">spme</text></g>
<g id="n-extraction-time"><circle class="p" cx="98" cy="96" r="3"/><text x="98" y="95" font-size="13.2">extraction time</text></g>
<g id="n-extraction-solvent"><circle class="p" cx="122" cy="72" r="3"/><text x="124" y="71" font-size="13.2">extraction solvent</text></g>
<g id="n-flame-photometric-detection"><circle class="p" cx="234" cy="52" r="3"/><text x="236" y="51" font-size="12.9">flame photometric detection</text></g>
<g id="n-pirimiphos-methyl"><circle class="p" cx="454" cy="54" r="3"/><text x="454" y="54" font-size="12.9">pirimiphos methyl</text></g>
<g id="n-mrl"><circle class="p" cx="455" cy="19" r="3"/><text x="456" y="18" font-size="13.2">mrl</text></g>
</g>
</g>
<g id="legend">
<rect x="2674" y="2148" width="836" height="126" rx="22" fill="#ffffff" stroke="#dcdcdc" stroke-width="2.5"/>
<rect x="2698" y="2170" width="788" height="42" fill="url(#yr)" stroke="#7a7a7a" stroke-width="1.5"/>
<g stroke="#555" stroke-width="2.5">
<line x1="2737" y1="2197" x2="2737" y2="2228"/><line x1="2877" y1="2197" x2="2877" y2="2228"/><line x1="3019" y1="2197" x2="3019" y2="2228"/><line x1="3162" y1="2197" x2="3162" y2="2228"/><line x1="3304" y1="2197" x2="3304" y2="2228"/><line x1="3444" y1="2197" x2="3444" y2="2228"/>
</g>
<text class="lgd" x="2737" y="2249">2014</text><text class="lgd" x="2877" y="2249">2016</text><text class="lgd" x="3019" y="2249">2018</text><text class="lgd" x="3162" y="2249">2020</text><text class="lgd" x="3304" y="2249">2022</text><text class="lgd" x="3444" y="2249">2024</text>
</g>
</svg>
